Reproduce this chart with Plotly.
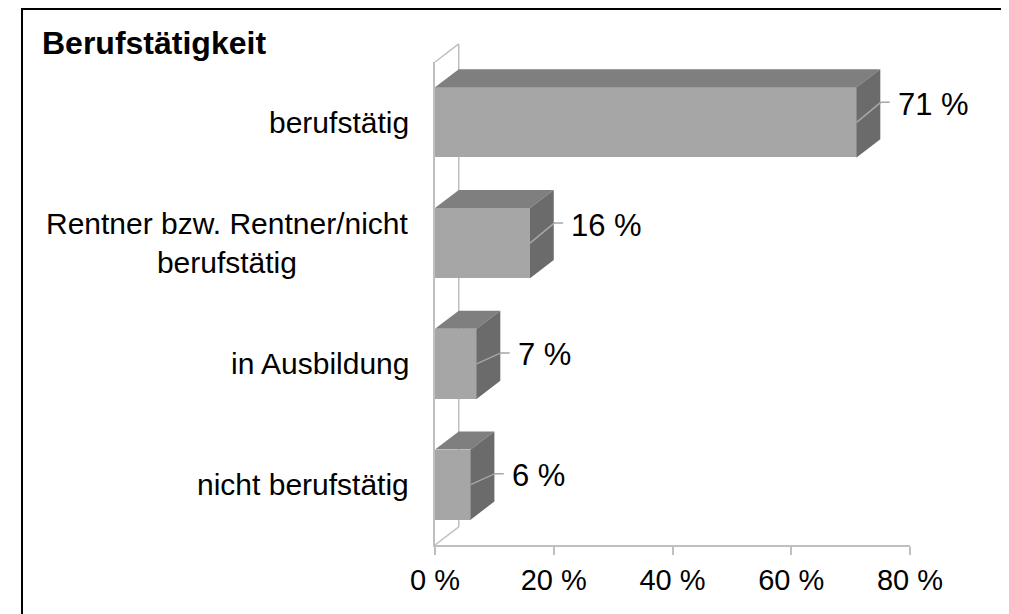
#%%
import plotly.graph_objects as go

#%%
categories = ["berufstätig", "Rentner bzw. Rentner/nicht<br>berufstätig", "in Ausbildung", "nicht berufstätig"]
values = [71, 16, 7, 6]
tick_values = [0, 20, 40, 60, 80]
tick_labels = [f"{t} %" for t in tick_values]
chart_title = "Berufstätigkeit"

#%%
# 3d look: depth of the bars in axis units
DX = 4.0
DY = 0.15
BAR_W = 0.58
X_MAX = 80
Y_LO, Y_HI = -0.5, len(categories) - 0.5
# how far each value label sits above its bar centre (axis units)
label_rise = [0.166, 0.166, 0.091, 0.091]

front_col = "#a6a6a6"
top_col = "#7f7f7f"
side_col = "#6b6b6b"
wall_col = "#bfbfbf"

ypos = list(range(len(categories) - 1, -1, -1))

fig = go.Figure()

fig.add_trace(go.Bar(
    x=values, y=ypos, orientation="h", width=BAR_W,
    marker=dict(color=front_col, line=dict(width=0)),
    hoverinfo="skip", showlegend=False,
))

top_x, top_y, side_x, side_y, lead_x, lead_y = [], [], [], [], [], []
for v, c, r in zip(values, ypos, label_rise):
    t = c + BAR_W / 2
    b = c - BAR_W / 2
    top_x += [0, v, v + DX, DX, 0, None]
    top_y += [t, t, t + DY, t + DY, t, None]
    side_x += [v, v + DX, v + DX, v, v, None]
    side_y += [b, b + DY, t + DY, t, b, None]
    lead_x += [v, v + DX * 1.02, v + DX * 1.02 + 1.5, None]
    lead_y += [c, c + r, c + r, None]

fig.add_trace(go.Scatter(x=top_x, y=top_y, mode="lines", fill="toself", fillcolor=top_col,
                         line=dict(width=0, color=top_col), hoverinfo="skip", showlegend=False))
fig.add_trace(go.Scatter(x=side_x, y=side_y, mode="lines", fill="toself", fillcolor=side_col,
                         line=dict(width=0, color=side_col), hoverinfo="skip", showlegend=False))
fig.add_trace(go.Scatter(x=lead_x, y=lead_y, mode="lines",
                         line=dict(width=1.5, color=front_col), hoverinfo="skip", showlegend=False))

# value labels
for v, c, r in zip(values, ypos, label_rise):
    fig.add_annotation(x=v + DX * 1.02 + 1.5, y=c + r, xref="x", yref="y",
                       text=f"{v} %", showarrow=False, xanchor="left", yanchor="middle",
                       xshift=6, yshift=-2, font=dict(size=31, color="black"))

# category labels
for name, c in zip(categories, ypos):
    fig.add_annotation(x=0, y=c, xref="x", yref="y", text=name, showarrow=False,
                       xanchor="right", yanchor="middle", align="center", xshift=-24,
                       font=dict(size=30, color="black"))

# side wall (back line + slants), in paper units of the axes
px = DX / X_MAX
def py(y):
    return (y - Y_LO) / (Y_HI - Y_LO)

wall = dict(type="line", xref="paper", yref="paper", layer="below",
            line=dict(color=wall_col, width=1.5))
fig.add_shape(x0=px, x1=px, y0=py(Y_LO + DY), y1=py(Y_HI + DY), **wall)
fig.add_shape(x0=0, x1=px, y0=py(Y_HI), y1=py(Y_HI + DY), **wall)
fig.add_shape(x0=0, x1=px, y0=py(Y_LO), y1=py(Y_LO + DY), **wall)

#%%
# page body has an 8px margin, so the figure is made smaller and shifted
OFF = 8
FW, FH = 1009 - OFF, 614 - OFF
L, R, T, B = 435 - OFF, 99, 62 - OFF, 69
W = FW - L - R
H = FH - T - B

# outer frame
fig.add_shape(type="rect", xref="paper", yref="paper",
              x0=(22 - OFF - L) / W, x1=(1002 - OFF - L) / W,
              y0=(FH - B - 640) / H, y1=(FH - B - (9 - OFF)) / H,
              line=dict(color="black", width=2), fillcolor="rgba(0,0,0,0)", layer="above")

fig.update_layout(
    width=FW, height=FH,
    margin=dict(l=L, r=R, t=T, b=B),
    paper_bgcolor="white", plot_bgcolor="white",
    font=dict(family="Arial, Liberation Sans, sans-serif", color="black"),
    title=dict(text=f"<b>{chart_title}</b>", x=(42 - OFF) / FW, xanchor="left", xref="container",
               y=1 - (32 - OFF) / FH, yanchor="top", yref="container",
               font=dict(size=32, color="black")),
    showlegend=False,
    bargap=0,
    xaxis=dict(range=[0, X_MAX], tickvals=tick_values, ticktext=tick_labels,
               showgrid=False, zeroline=False, showline=True, linecolor=wall_col, linewidth=1.5,
               ticks="outside", ticklen=8, tickwidth=1.5, tickcolor=wall_col,
               tickfont=dict(size=29, color="black"), fixedrange=True),
    yaxis=dict(range=[Y_LO, Y_HI], showticklabels=False, showgrid=False, zeroline=False,
               showline=True, linecolor=wall_col, linewidth=1.5, fixedrange=True),
)

fig.write_html("out.html")
